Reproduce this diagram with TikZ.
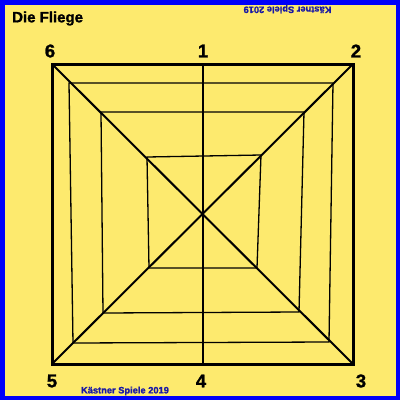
\documentclass[tikz,border=0pt]{standalone}
\usepackage{fontspec}
\setmainfont{Liberation Sans}
\newfontfamily\heavy[BoldFeatures={FakeBold=1.3}]{Liberation Sans}
\definecolor{bgyellow}{RGB}{253,234,110}
\definecolor{frameblue}{RGB}{0,0,250}
\definecolor{textblue}{RGB}{25,25,165}
\begin{document}
\begin{tikzpicture}[x=1pt,y=-1pt,
  outer/.style={line width=3pt,line join=miter},
  axis/.style={line width=2pt},
  ring/.style={line width=1.3pt,line join=miter},
  num/.style={font=\fontsize{18.5}{18.5}\heavy\bfseries,inner sep=0pt},
  credit/.style={font=\fontsize{9.3}{9.3}\heavy\bfseries,text=textblue,inner sep=0pt}]
\useasboundingbox (0,0) rectangle (400,400);
\fill[bgyellow] (0,0) rectangle (400,400);
\draw[frameblue,line width=4.5pt] (2.25,2.25) rectangle (397.75,397.75);
% outer square corners
\coordinate (c6) at (52,64);
\coordinate (c2) at (353,64);
\coordinate (c3) at (353,364);
\coordinate (c5) at (52,364);
\coordinate (m1) at (202.5,64);
\coordinate (m4) at (202.5,364);
% rings
\draw[ring] (69,83) -- (333,83) -- (329,342) -- (73,343) -- cycle;
\draw[ring] (101,112) -- (304,112) -- (299,312) -- (103,313) -- cycle;
\draw[ring] (147,157) -- (261,155) -- (257,268) -- (149,268) -- cycle;
% axes
\draw[axis] (m1) -- (m4);
\draw[axis] (c6) -- (c3);
\draw[axis] (c2) -- (c5);
\draw[outer] (c6) -- (c2) -- (c3) -- (c5) -- cycle;
% labels
\node[num] (n6) at (50,51) {6};
\node[num] (n1) at (203,51) {1};
\node[num] (n2) at (356,51) {2};
\node[num] (n5) at (52,381) {5};
\node[num] (n4) at (201,381) {4};
\node[num] (n3) at (361,381) {3};
\node[font=\fontsize{15}{15}\heavy\bfseries,anchor=west,inner sep=0pt] (title) at (12,18.5) {Die Fliege};
\node[credit,rotate=180] (ctop) at (287.5,9) {Kästner Spiele 2019};
\node[credit] (cbot) at (125,391) {Kästner Spiele 2019};
\end{tikzpicture}
\end{document}
